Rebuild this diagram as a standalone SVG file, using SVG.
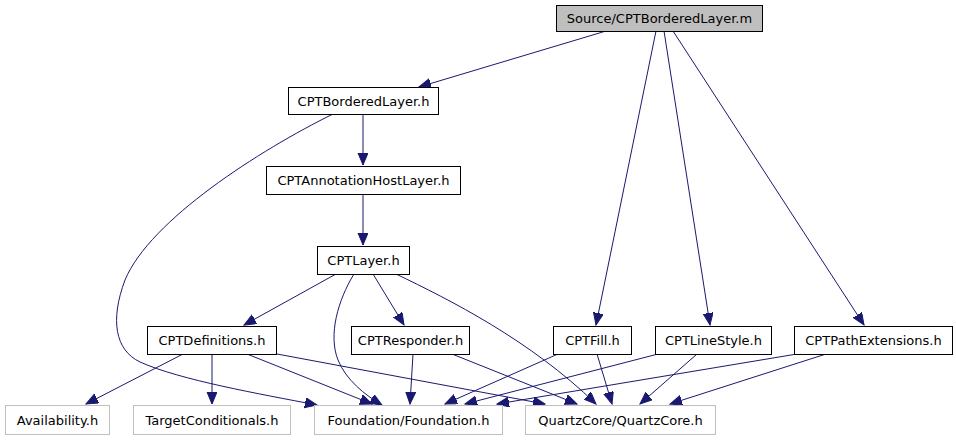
<svg xmlns="http://www.w3.org/2000/svg" width="956" height="443" viewBox="0 0 956 443">
<style>
  .n rect { fill: #ffffff; stroke: #000000; stroke-width: 1; }
  .n.src rect { fill: #bfbfbf; }
  .n.ext rect { stroke: #bfbfbf; }
  .n text { font-family: "DejaVu Sans", "Liberation Sans", sans-serif; font-size: 13px; fill: #000000; text-anchor: middle; }
  .e path { fill: none; stroke: #191970; stroke-width: 1; marker-end: url(#ah); }
</style>
<defs>
  <marker id="ah" markerUnits="userSpaceOnUse" markerWidth="13" markerHeight="11" refX="12" refY="5" orient="auto">
    <path d="M0,0 L12,5 L0,10 z" fill="#191970" stroke="#191970" stroke-width="1"/>
  </marker>
</defs>
<rect x="0" y="0" width="956" height="443" fill="#ffffff"/>
<g id="edges" class="e">
  <path d="M606,31 L419,87"/>
  <path d="M656,31 L596,325"/>
  <path d="M664,31 L710,325"/>
  <path d="M673,31 L864,325"/>
  <path d="M363,114 L363,165"/>
  <path d="M333,114 C 260,150 150,220 125,280 C 110,320 115,350 140,362 C 180,380 260,394 317,405"/>
  <path d="M363,194 L363,245"/>
  <path d="M336,274 L244,325"/>
  <path d="M373,274 L404,325"/>
  <path d="M354,274 C 338,300 328,335 338,360 C 346,380 365,395 382,405"/>
  <path d="M396,274 C 450,300 530,340 596,404"/>
  <path d="M183,354 L86,404"/>
  <path d="M212,354 L212,404"/>
  <path d="M247,354 L372,404"/>
  <path d="M277,354 L545,404"/>
  <path d="M413,354 L410,404"/>
  <path d="M452,354 L577,404"/>
  <path d="M558,354 L445,404"/>
  <path d="M597,354 L612,404"/>
  <path d="M658,354 L465,404"/>
  <path d="M697,354 L640,404"/>
  <path d="M797,354 L497,404"/>
  <path d="M826,354 L670,404"/>
</g>
<g id="n_source" class="n src"><rect x="556.5" y="5.5" width="206" height="26"/><text x="659.5" y="23">Source/CPTBorderedLayer.m</text></g>
<g id="n_bordered" class="n"><rect x="288.5" y="87.5" width="150" height="27"/><text x="363.5" y="105.5">CPTBorderedLayer.h</text></g>
<g id="n_annotation" class="n"><rect x="266.5" y="166.5" width="194" height="28"/><text x="363.5" y="185">CPTAnnotationHostLayer.h</text></g>
<g id="n_layer" class="n"><rect x="317.5" y="246.5" width="92" height="28"/><text x="363.5" y="265">CPTLayer.h</text></g>
<g id="n_definitions" class="n"><rect x="147.5" y="326.5" width="129" height="28"/><text x="212" y="345">CPTDefinitions.h</text></g>
<g id="n_responder" class="n"><rect x="351.5" y="326.5" width="118" height="28"/><text x="410.5" y="345">CPTResponder.h</text></g>
<g id="n_fill" class="n"><rect x="553.5" y="326.5" width="78" height="28"/><text x="592.5" y="345">CPTFill.h</text></g>
<g id="n_linestyle" class="n"><rect x="655.5" y="326.5" width="116" height="28"/><text x="713.5" y="345">CPTLineStyle.h</text></g>
<g id="n_pathext" class="n"><rect x="794.5" y="326.5" width="158" height="28"/><text x="873.5" y="345">CPTPathExtensions.h</text></g>
<g id="n_availability" class="n ext"><rect x="5.5" y="405.5" width="104" height="29"/><text x="57.5" y="424.5">Availability.h</text></g>
<g id="n_targetcond" class="n ext"><rect x="133.5" y="405.5" width="157" height="29"/><text x="212" y="424.5">TargetConditionals.h</text></g>
<g id="n_foundation" class="n ext"><rect x="314.5" y="405.5" width="188" height="29"/><text x="408.5" y="424.5">Foundation/Foundation.h</text></g>
<g id="n_quartz" class="n ext"><rect x="525.5" y="405.5" width="190" height="29"/><text x="620.5" y="424.5">QuartzCore/QuartzCore.h</text></g>
</svg>
